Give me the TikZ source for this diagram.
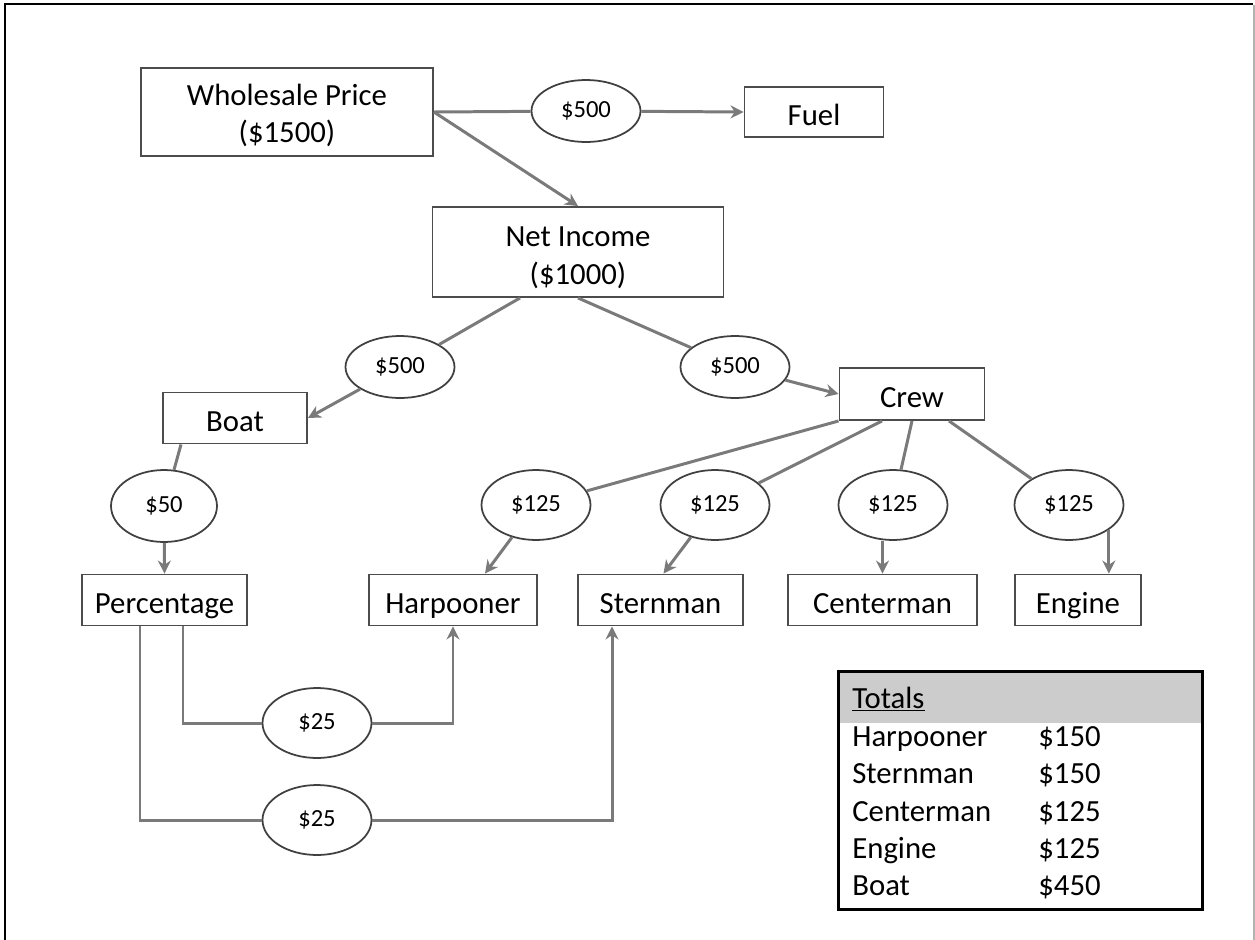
\documentclass[tikz,border=0pt]{standalone}
\usepackage{fontspec}
\setmainfont{Carlito}
\usetikzlibrary{shapes.geometric,arrows.meta}

\begin{document}
\begin{tikzpicture}[
  x=0.02cm, y=-0.02cm,
  box/.style={
    draw=black!70,
    line width=1.1pt,
    fill=white,
    inner sep=0pt,
    minimum height=1.02cm,
    text height=16pt,
    text depth=1pt,
    font=\fontsize{17.5}{21.5}\selectfont
  },
  bigbox/.style={
    box,
    text height=,
    text depth=,
    align=center
  },
  amount/.style={
    ellipse,
    draw=black!75,
    line width=1pt,
    fill=white,
    inner sep=0pt,
    minimum width=2.18cm,
    minimum height=1.4cm,
    font=\fontsize{14}{16}\selectfont
  },
  link/.style={
    draw=black!52,
    line width=1.7pt
  },
  flow/.style={
    link,
    -{Stealth[length=2.6mm,width=2.6mm]}
  },
  entry/.style={
    anchor=base west,
    inner sep=0pt,
    font=\fontsize{17.5}{21}\selectfont
  }
]
\useasboundingbox (0,0) rectangle (1255,940);

% frame
\draw[line width=1.7pt] (5,940) -- (5,4) -- (1253,4);
\draw[black!30, line width=0.6pt] (1254,5) -- (1254,940);

% top row
\node[bigbox, minimum width=5.84cm, minimum height=1.76cm] (whole) at (287,112)
  {\rule{0pt}{16pt}Wholesale Price\\(\$1500)};
\node[amount, minimum height=1.24cm] (fuelcut) at (586,111) {\$500};
\node[box, minimum width=2.78cm, minimum height=1cm] (fuel) at (814,112) {Fuel};
\node[bigbox, minimum width=5.82cm, minimum height=1.8cm] (net) at (578,252)
  {\rule{0pt}{18pt}Net Income\\(\$1000)};

% second level
\node[amount, minimum height=1.24cm] (boatcut) at (400,367) {\$500};
\node[amount, minimum height=1.24cm] (crewcut) at (735,367) {\$500};
\node[box, minimum width=2.88cm] (boat) at (235,418) {Boat};
\node[box, minimum width=2.9cm, minimum height=1.04cm] (crew) at (912,394) {Crew};

% shares
\node[amount, minimum width=2.12cm, minimum height=1.44cm] (pctcut) at (164,506) {\$50};
\node[amount] (harpcut) at (536,505) {\$125};
\node[amount] (sterncut) at (715,505) {\$125};
\node[amount] (centercut) at (893,505) {\$125};
\node[amount] (enginecut) at (1069,505) {\$125};

% bottom row
\node[box, minimum width=3.3cm] (pct) at (164.5,600) {Percentage};
\node[box, minimum width=3.36cm] (harp) at (453,600) {Harpooner};
\node[box, minimum width=3.3cm] (stern) at (660.5,600) {Sternman};
\node[box, minimum width=3.78cm] (center) at (882.5,600) {Centerman};
\node[box, minimum width=2.52cm] (engine) at (1078,600) {Engine};

% percentage split
\node[amount] (harpbonus) at (317,723) {\$25};
\node[amount] (sternbonus) at (317,820) {\$25};

% connectors
\draw[link] (whole.east) -- (fuelcut);
\draw[flow] (fuelcut) -- (fuel.west);
\draw[flow] (whole.east) -- (net.north);
\draw[link] ([xshift=-1.16cm]net.south) -- (boatcut);
\draw[flow] (boatcut) -- (boat.east);
\draw[link] (net.south) -- (crewcut);
\draw[flow] (crewcut) -- (crew.west);
\draw[link] ([xshift=-1.08cm]boat.south) -- (pctcut);
\draw[flow] (pctcut) -- (pct.north);
\draw[link] (crew.south west) -- (harpcut);
\draw[link] ([xshift=-0.6cm]crew.south) -- (sterncut);
\draw[link] (crew.south) -- (centercut);
\draw[link] ([xshift=0.74cm]crew.south) -- (enginecut);
\draw[flow] (harpcut) -- ([xshift=0.64cm]harp.north);
\draw[flow] (sterncut) -- ([xshift=0.06cm]stern.north);
\draw[flow] (centercut.south -| center.north) -- (center.north);
\draw[flow] (enginecut.-32) -- (enginecut.-32 |- engine.north);
\draw[link] ([xshift=0.37cm]pct.south) |- (harpbonus);
\draw[flow] (harpbonus) -| (harp.south);
\draw[link] ([xshift=-0.49cm]pct.south) |- (sternbonus);
\draw[flow] (sternbonus) -| ([xshift=-0.97cm]stern.south);

% totals table
\node[fill=black!20, minimum width=7.3cm, minimum height=1.04cm, inner sep=0pt]
  (head) at (1020.5,697) {};
\node[draw, line width=1.7pt, minimum width=7.3cm, minimum height=4.78cm,
  inner sep=0pt] (totals) at (1020.5,790.5) {};
\node[entry] (tothead) at (852,708) {\underline{Totals}};
\node[entry] (totharp) at (852,746) {Harpooner};
\node[entry] (totstern) at (852,783) {Sternman};
\node[entry] (totcenter) at (852,821) {Centerman};
\node[entry] (totengine) at (852,858) {Engine};
\node[entry] (totboat) at (852,895) {Boat};
\node[entry] (valharp) at (1038,746) {\$150};
\node[entry] (valstern) at (1038,783) {\$150};
\node[entry] (valcenter) at (1038,821) {\$125};
\node[entry] (valengine) at (1038,858) {\$125};
\node[entry] (valboat) at (1038,895) {\$450};

\end{tikzpicture}
\end{document}
